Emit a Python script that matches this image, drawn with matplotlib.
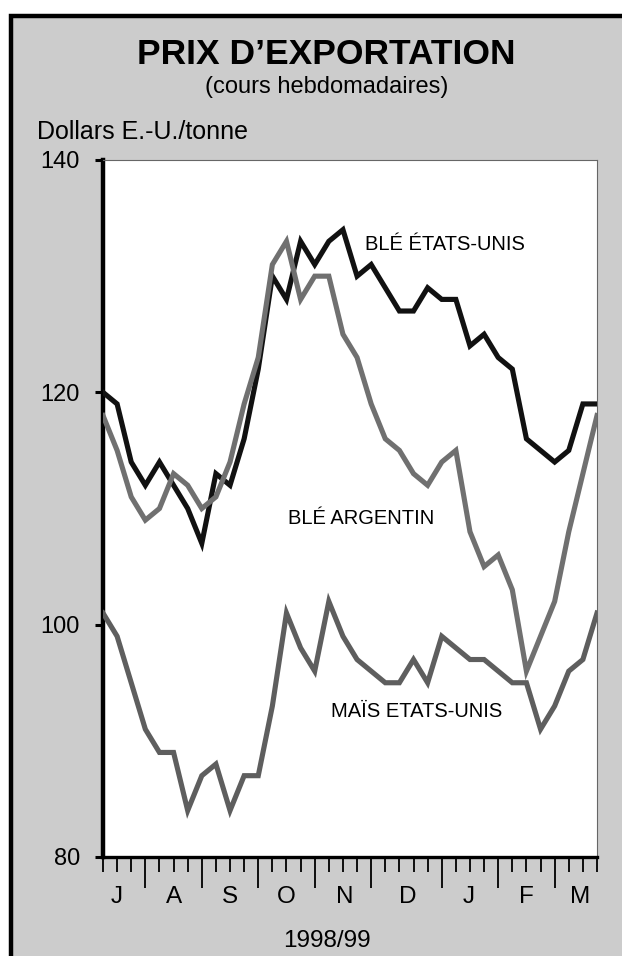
import matplotlib
matplotlib.use('Agg')
import matplotlib.pyplot as plt
from matplotlib.patches import Rectangle
import numpy as np

plt.rcParams['font.family'] = ['Liberation Sans', 'DejaVu Sans']

# weekly export prices, July 1998 - March 1999 (US$/tonne)
weeks = np.arange(36)
ble_us = [120, 119, 114, 112, 114, 112, 110, 107, 113, 112, 116, 122, 130, 128, 133, 131, 133, 134,
          130, 131, 129, 127, 127, 129, 128, 128, 124, 125, 123, 122, 116, 115, 114, 115, 119, 119]
ble_ar = [118, 115, 111, 109, 110, 113, 112, 110, 111, 114, 119, 123, 131, 133, 128, 130, 130, 125,
          123, 119, 116, 115, 113, 112, 114, 115, 108, 105, 106, 103, 96, 99, 102, 108, 113, 118]
mais_us = [101, 99, 95, 91, 89, 89, 84, 87, 88, 84, 87, 87, 93, 101, 98, 96, 102, 99,
           97, 96, 95, 95, 97, 95, 99, 98, 97, 97, 96, 95, 95, 91, 93, 96, 97, 101]
month_labels = ['J', 'A', 'S', 'O', 'N', 'D', 'J', 'F', 'M']
month_starts = [3, 7, 11, 15, 19, 24, 28, 32]
yticks = [80, 100, 120, 140]

W, H = 622, 956
fig = plt.figure(figsize=(W / 100, H / 100), dpi=100)
fig.patch.set_facecolor('white')


def fx(px):
    return px / W


def fy(py):
    return 1 - py / H


# grey panel with black frame (right/bottom edges run off the page)
fig.patches.append(Rectangle((fx(10.5), -0.1), 1.2, fy(16) + 0.1, transform=fig.transFigure,
                             facecolor='#cccccc', edgecolor='black', linewidth=3.2, zorder=-10))

fig.text(fx(326), fy(55), 'PRIX D\u2019EXPORTATION', ha='center', va='center',
         fontsize=25.5, fontweight='bold')
fig.text(fx(327), fy(87), '(cours hebdomadaires)', ha='center', va='center', fontsize=17)
fig.text(fx(37), fy(132), 'Dollars E.-U./tonne', ha='left', va='center', fontsize=18)

ax = fig.add_axes([fx(103), fy(857), fx(597) - fx(103), fy(160) - fy(857)])
ax.set_facecolor('white')

ax.plot(weeks, ble_us, color='#111111', lw=3.7, solid_joinstyle='miter', zorder=3)
ax.plot(weeks, mais_us, color='#5e5e5e', lw=3.7, solid_joinstyle='miter', zorder=3)
ax.plot(weeks, ble_ar, color='#707070', lw=3.7, solid_joinstyle='miter', zorder=4)

ax.set_xlim(0, 35)
ax.set_ylim(80, 140)

for s in ['top', 'right']:
    ax.spines[s].set_color('#666666')
    ax.spines[s].set_linewidth(0.8)
ax.spines['left'].set_linewidth(3.2)
ax.spines['bottom'].set_linewidth(2.4)

ax.set_yticks(yticks)
ax.set_yticklabels([str(v) for v in yticks], fontsize=17)
ax.tick_params(axis='y', direction='out', length=6, width=2.2, pad=10.5)

ax.set_xticks(month_starts)
ax.set_xticks([w for w in weeks if w not in month_starts], minor=True)
ax.set_xticklabels([])
ax.tick_params(axis='x', which='major', direction='out', length=22, width=1.3)
ax.tick_params(axis='x', which='minor', direction='out', length=10.5, width=1.3)

label_pos = [1.0, 5.0, 9.0, 13.0, 17.1, 21.6, 25.9, 30.0, 33.8]
for p, m in zip(label_pos, month_labels):
    ax.annotate(m, xy=(p, 0), xycoords=('data', 'axes fraction'), xytext=(0, -29),
                textcoords='offset points', ha='center', va='center', fontsize=17.5)

fig.text(fx(327), fy(941), '1998/99', ha='center', va='center', fontsize=17.5)

ax.text(24.2, 132.7, 'BLÉ ÉTATS-UNIS', ha='center', va='center', fontsize=14.5)
ax.text(18.3, 109.1, 'BLÉ ARGENTIN', ha='center', va='center', fontsize=14.5)
ax.text(22.25, 92.5, 'MAÏS ETATS-UNIS', ha='center', va='center', fontsize=14.5)

fig.savefig('out.png', dpi=100)
